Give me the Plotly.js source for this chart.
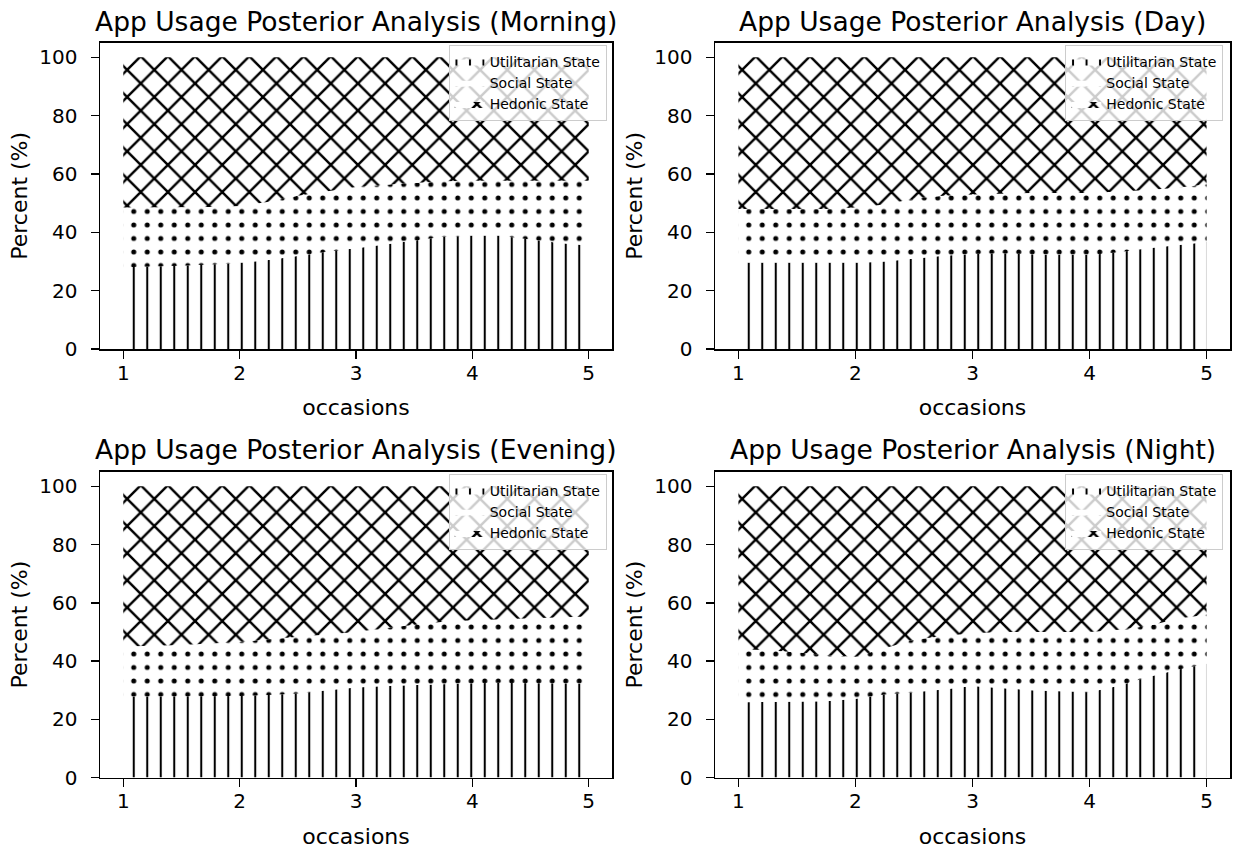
<!DOCTYPE html>
<html><head><meta charset="utf-8">
<script src="https://cdn.plot.ly/plotly-3.0.1.min.js"></script>
<style>html,body{margin:0;padding:0;background:#fff}#chart{width:1238px;height:852px}</style>
</head><body><div id="chart"></div>
<script>
const occasions = [1,1.25,1.5,1.75,2,2.25,2.5,2.75,3,3.25,3.5,3.75,4,4.25,4.5,4.75,5];
const seriesNames = ['Utilitarian State','Social State','Hedonic State'];
const periods = ['Morning','Day','Evening','Night'];

const morningUtil    = [28,28.2,28.5,29,29.5,30.5,32,33.3,34.5,35.8,37,38.5,38.8,38.8,37.5,36.3,35.5];
const morningSocial  = [20.5,20.3,20,19.7,19.5,20,20.5,20.7,21,20.5,20,19,18.9,18.9,20.2,21.4,22.2];
const morningHedonic = [51.5,51.5,51.5,51.3,51,49.5,47.5,46,44.5,43.7,43,42.5,42.3,42.3,42.3,42.3,42.3];

const dayUtil    = [29.5,29.5,29.5,29.5,29.5,30,31,32,32.6,32.8,32.5,32.2,32.2,33.2,34.5,35.6,36.7];
const daySocial  = [18.5,18.5,18.5,18.5,19,19.5,20.5,20.5,20.4,20.5,21,21.3,21.3,20.8,20,19.7,19.8];
const dayHedonic = [52,52,52,52,51.5,50.5,48.5,47.5,47,46.7,46.5,46.5,46.5,46,45.5,44.7,43.5];

const eveningUtil    = [27.8,27.8,27.8,27.9,28,28.3,28.8,30,30.9,31.4,31.8,32.2,32.4,32.5,32.5,32.4,32.3];
const eveningSocial  = [17.2,17.4,17.7,18.1,18.5,19.2,19.5,19,19.1,19.9,20.7,21.3,21.6,21.8,22,22.6,23];
const eveningHedonic = [55,54.8,54.5,54,53.5,52.5,51.7,51,50,48.7,47.5,46.5,46,45.7,45.5,45,44.7];

const nightUtil    = [25.8,25.9,26,26.2,27,28.5,29.3,30.2,31.4,30.7,30,29.6,29.3,31.5,34.5,37,39.1];
const nightSocial  = [18.2,17.8,17,15.8,14.5,16,18,18.4,18.1,19.3,20,20.4,20.7,19.2,17.5,17.5,16.9];
const nightHedonic = [56,56.3,57,58,58.5,55.5,52.7,51.4,50.5,50,50,50,50,49.3,48,45.5,44];

const xTicks = [1,2,3,4,5];
const yTicks = [0,20,40,60,80,100];

const panelSeries = [
  [morningUtil, morningSocial, morningHedonic],
  [dayUtil, daySocial, dayHedonic],
  [eveningUtil, eveningSocial, eveningHedonic],
  [nightUtil, nightSocial, nightHedonic]
];

const FONT = 'DejaVu Sans, sans-serif';
const W = 1238, H = 852;
const patterns = [
  {shape:'|', size:13.5, solidity:0.15},
  {shape:'.', size:13.5, solidity:0.11},
  {shape:'x', size:19.2, solidity:0.24}
];
const xDom = [[100/W, 612/W],[715/W, 1230/W]];
const yDom = [[1-349/H, 1-42.7/H],[1-777.5/H, 1-471.7/H]];
const legendPos = [
  {x:606.7/W, y:1-45/H},{x:1223.3/W, y:1-45/H},
  {x:606.7/W, y:1-474/H},{x:1223.3/W, y:1-474/H}
];
const titlePos = [
  {x:356/W, y:1-21.5/H},{x:972.5/W, y:1-21.5/H},
  {x:356/W, y:1-449/H},{x:972.5/W, y:1-449/H}
];

const traces = [];
const layout = {
  width: W, height: H,
  margin: {l:0, r:0, t:0, b:0},
  paper_bgcolor: '#fff', plot_bgcolor: '#fff',
  font: {family: FONT, color: '#000'},
  showlegend: true,
  annotations: []
};

periods.forEach((p, i) => {
  const n = i + 1;
  const xa = n === 1 ? 'x' : 'x' + n;
  const ya = n === 1 ? 'y' : 'y' + n;
  const lg = n === 1 ? 'legend' : 'legend' + n;
  const col = i % 2, row = Math.floor(i / 2);
  panelSeries[i].forEach((vals, k) => {
    traces.push({
      type: 'scatter', x: occasions, y: vals, name: seriesNames[k],
      xaxis: xa, yaxis: ya, legend: lg,
      stackgroup: 'g' + n, mode: 'lines',
      line: {width: 0, color: '#000'},
      fillcolor: '#fff',
      fillpattern: {shape: patterns[k].shape, size: patterns[k].size, solidity: patterns[k].solidity,
                    fgcolor: '#000', bgcolor: '#fff', fillmode: 'replace'},
      hoverinfo: 'skip'
    });
  });
  const axCommon = {
    showline: true, mirror: true, linecolor: '#000', linewidth: 1.5,
    ticks: 'outside', ticklen: 8, tickwidth: 1.5, tickcolor: '#000',
    showgrid: false, zeroline: false, fixedrange: true,
    tickfont: {family: FONT, size: 20, color: '#000'}
  };
  layout['xaxis' + (n === 1 ? '' : n)] = Object.assign({}, axCommon, {
    domain: xDom[col], anchor: ya, range: [0.8, 5.2],
    tickmode: 'array', tickvals: xTicks, ticktext: xTicks.map(String),
    ticklabelstandoff: -3,
    title: {text: 'occasions', font: {family: FONT, size: 22, color: '#000'}, standoff: 16}
  });
  layout['yaxis' + (n === 1 ? '' : n)] = Object.assign({}, axCommon, {
    domain: yDom[row], anchor: xa, range: [0, 105],
    tickmode: 'array', tickvals: yTicks, ticktext: yTicks.map(String),
    ticklabelstandoff: 9,
    title: {text: 'Percent (%)', font: {family: FONT, size: 22, color: '#000'}, standoff: 5}
  });
  layout[lg] = {
    x: legendPos[i].x, y: legendPos[i].y, xanchor: 'right', yanchor: 'top',
    bgcolor: 'rgba(255,255,255,0.8)', bordercolor: '#cccccc', borderwidth: 1,
    font: {family: FONT, size: 14, color: '#000'}, traceorder: 'normal',
    itemwidth: 30
  };
  layout.annotations.push({
    text: 'App Usage Posterior Analysis (' + p + ')',
    xref: 'paper', yref: 'paper', x: titlePos[i].x, y: titlePos[i].y,
    xanchor: 'center', yanchor: 'middle', showarrow: false,
    font: {family: FONT, size: 26.5, color: '#000'}
  });
});

Plotly.newPlot('chart', traces, layout, {staticPlot: true, displayModeBar: false});
</script>
</body></html>
